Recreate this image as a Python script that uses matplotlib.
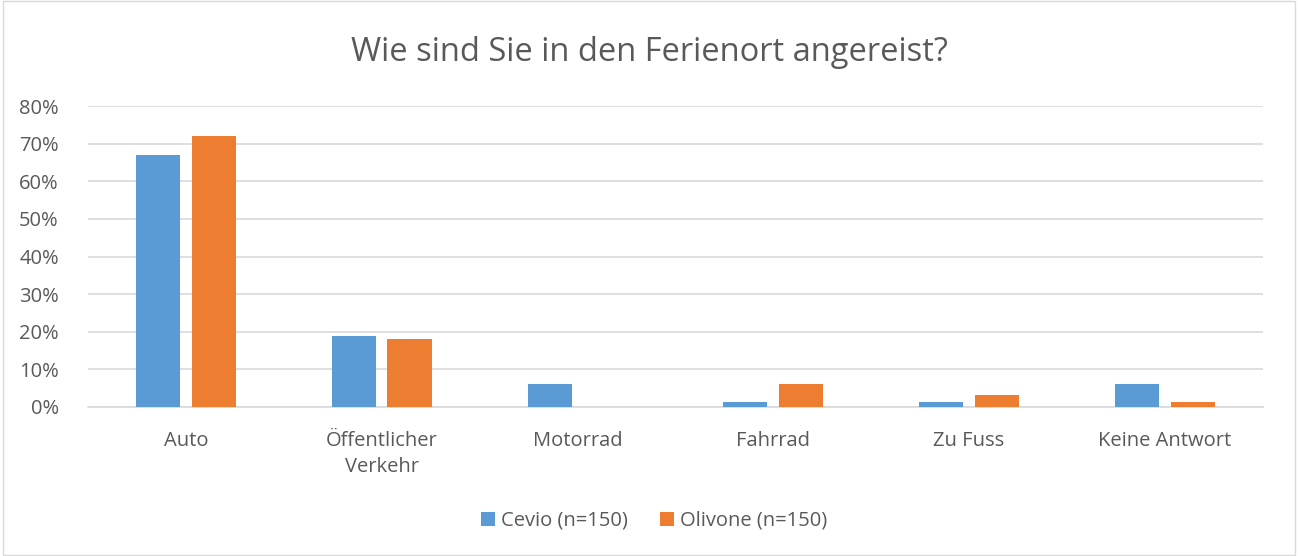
import numpy as np
import matplotlib.pyplot as plt
from matplotlib.patches import Rectangle

categories = ["Auto", "Öffentlicher\nVerkehr", "Motorrad", "Fahrrad", "Zu Fuss", "Keine Antwort"]
cevio = [67, 19, 6, 1.3, 1.3, 6]
olivone = [72, 18, 0, 6, 3.3, 1.3]
series_labels = ["Cevio (n=150)", "Olivone (n=150)"]
yticks = [0, 10, 20, 30, 40, 50, 60, 70, 80]

plt.rcParams['font.family'] = ['Open Sans', 'DejaVu Sans']
grey = "#595959"

fig = plt.figure(figsize=(12.98, 5.56), dpi=100)
ax = fig.add_axes([0.0678, 0.268, 0.905, 0.541])

x = np.arange(len(categories))
w = 0.225
ax.bar(x - 0.142, cevio, w, color="#5B9BD5", label=series_labels[0], zorder=3)
ax.bar(x + 0.142, olivone, w, color="#ED7D31", label=series_labels[1], zorder=3)

ax.set_xlim(-0.5, len(categories) - 0.5)
ax.set_ylim(0, 80)
ax.set_yticks(yticks)
ax.set_yticklabels([f"{v}%" for v in yticks])
ax.set_xticks(x)
ax.set_xticklabels(categories, linespacing=1.45)
ax.tick_params(axis="both", length=0, colors=grey)
ax.tick_params(axis="x", pad=17, labelsize=14.5)
ax.tick_params(axis="y", pad=21, labelsize=14.5)
ax.grid(axis="y", color="#D9D9D9", linewidth=1.2, zorder=0)
for s in ["top", "right", "left"]:
    ax.spines[s].set_visible(False)
ax.spines["bottom"].set_color("#D9D9D9")
ax.spines["bottom"].set_linewidth(1.2)

fig.text(0.5, 0.905, "Wie sind Sie in den Ferienort angereist?", ha="center", va="center",
         fontsize=23.5, color=grey)

fig.legend(*ax.get_legend_handles_labels(), loc="center", bbox_to_anchor=(0.504, 0.063), ncol=2,
           frameon=False, fontsize=14.5, labelcolor=grey, handlelength=0.7, handleheight=0.7,
           handletextpad=0.3, columnspacing=1.6)

fig.patches.append(Rectangle((0.002, 0.002), 0.996, 0.996, transform=fig.transFigure,
                             fill=False, edgecolor="#D9D9D9", linewidth=1))

fig.savefig("out.png", dpi=100)
